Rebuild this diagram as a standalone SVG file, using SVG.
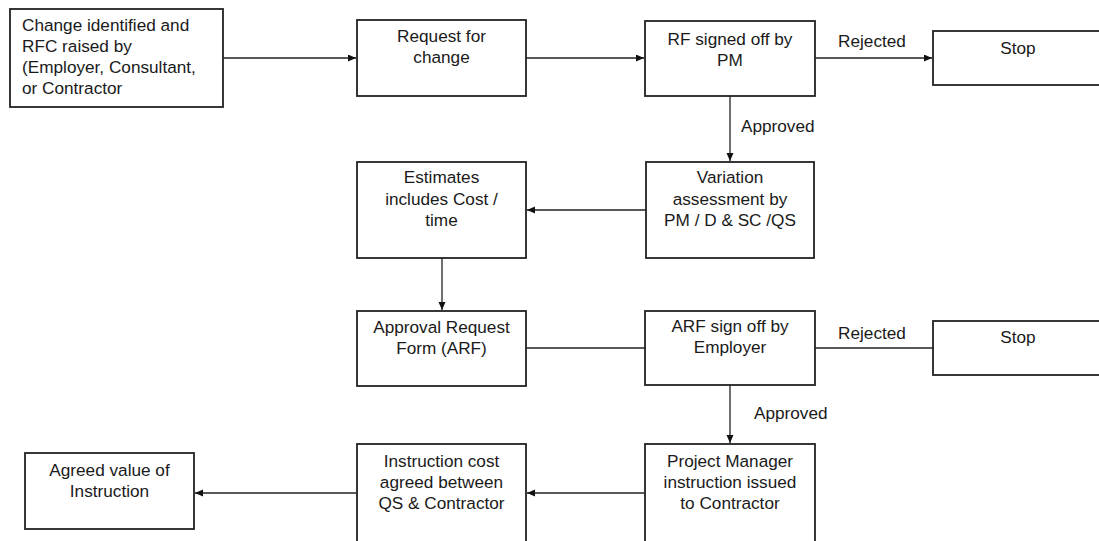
<svg xmlns="http://www.w3.org/2000/svg" width="1099" height="541" viewBox="0 0 1099 541">
<style>
.box{fill:#fff;stroke:#222;stroke-width:1.8}
.t{font-family:"Liberation Sans",Arial,sans-serif;font-size:17.2px;fill:#1a1a1a}
.c{text-anchor:middle}
.ln{fill:none;stroke:#222;stroke-width:1.3}
</style>
<defs>
<marker id="ah" markerUnits="userSpaceOnUse" markerWidth="9" markerHeight="8" refX="8" refY="3.5" orient="auto">
<path d="M0,0 L8,3.5 L0,7 z" fill="#111"/>
</marker>
</defs>
<rect width="1099" height="541" fill="#fff"/>
<g id="connectors">
<line class="ln" x1="223" y1="58" x2="356" y2="58" marker-end="url(#ah)"/>
<line class="ln" x1="526" y1="58" x2="644" y2="58" marker-end="url(#ah)"/>
<line class="ln" x1="815" y1="58" x2="932" y2="58" marker-end="url(#ah)"/>
<text class="t c" x="872" y="47">Rejected</text>
<line class="ln" x1="730" y1="96" x2="730" y2="161" marker-end="url(#ah)"/>
<text class="t" x="741" y="132">Approved</text>
<line class="ln" x1="646" y1="210" x2="527" y2="210" marker-end="url(#ah)"/>
<line class="ln" x1="442" y1="258" x2="442" y2="310" marker-end="url(#ah)"/>
<line class="ln" x1="526" y1="348" x2="645" y2="348"/>
<line class="ln" x1="815" y1="348" x2="933" y2="348"/>
<text class="t c" x="872" y="339">Rejected</text>
<line class="ln" x1="730" y1="385" x2="730" y2="443" marker-end="url(#ah)"/>
<text class="t" x="754" y="419">Approved</text>
<line class="ln" x1="645" y1="493" x2="527" y2="493" marker-end="url(#ah)"/>
<line class="ln" x1="357" y1="493" x2="195" y2="493" marker-end="url(#ah)"/>
</g>
<g id="n1">
<rect class="box" x="10" y="9" width="213" height="98"/>
<text class="t" x="22" y="31">Change identified and</text>
<text class="t" x="22" y="52">RFC raised by</text>
<text class="t" x="22" y="73">(Employer, Consultant,</text>
<text class="t" x="22" y="94">or Contractor</text>
</g>
<g id="n2">
<rect class="box" x="357" y="20" width="169" height="76"/>
<text class="t c" x="441.5" y="42">Request for</text>
<text class="t c" x="441.5" y="63">change</text>
</g>
<g id="n3">
<rect class="box" x="645" y="21" width="170" height="75"/>
<text class="t c" x="730" y="45">RF signed off by</text>
<text class="t c" x="730" y="66">PM</text>
</g>
<g id="n4">
<rect class="box" x="933" y="31" width="172" height="54"/>
<text class="t c" x="1018" y="54">Stop</text>
</g>
<g id="n5">
<rect class="box" x="646" y="162" width="168" height="96"/>
<text class="t c" x="730" y="183">Variation</text>
<text class="t c" x="730" y="205">assessment by</text>
<text class="t c" x="730" y="226">PM / D &amp; SC /QS</text>
</g>
<g id="n6">
<rect class="box" x="357" y="162" width="169" height="96"/>
<text class="t c" x="441.5" y="183">Estimates</text>
<text class="t c" x="441.5" y="205">includes Cost /</text>
<text class="t c" x="441.5" y="226">time</text>
</g>
<g id="n7">
<rect class="box" x="357" y="311" width="169" height="75"/>
<text class="t c" x="441.5" y="333">Approval Request</text>
<text class="t c" x="441.5" y="354">Form (ARF)</text>
</g>
<g id="n8">
<rect class="box" x="645" y="311" width="170" height="74"/>
<text class="t c" x="730" y="332">ARF sign off by</text>
<text class="t c" x="730" y="353">Employer</text>
</g>
<g id="n9">
<rect class="box" x="933" y="321" width="172" height="54"/>
<text class="t c" x="1018" y="343">Stop</text>
</g>
<g id="n10">
<rect class="box" x="645" y="444" width="170" height="100"/>
<text class="t c" x="730" y="467">Project Manager</text>
<text class="t c" x="730" y="488">instruction issued</text>
<text class="t c" x="730" y="509">to Contractor</text>
</g>
<g id="n11">
<rect class="box" x="357" y="444" width="169" height="100"/>
<text class="t c" x="441.5" y="467">Instruction cost</text>
<text class="t c" x="441.5" y="488">agreed between</text>
<text class="t c" x="441.5" y="509">QS &amp; Contractor</text>
</g>
<g id="n12">
<rect class="box" x="25" y="453" width="169" height="76"/>
<text class="t c" x="109.5" y="476">Agreed value of</text>
<text class="t c" x="109.5" y="497">Instruction</text>
</g>
</svg>
